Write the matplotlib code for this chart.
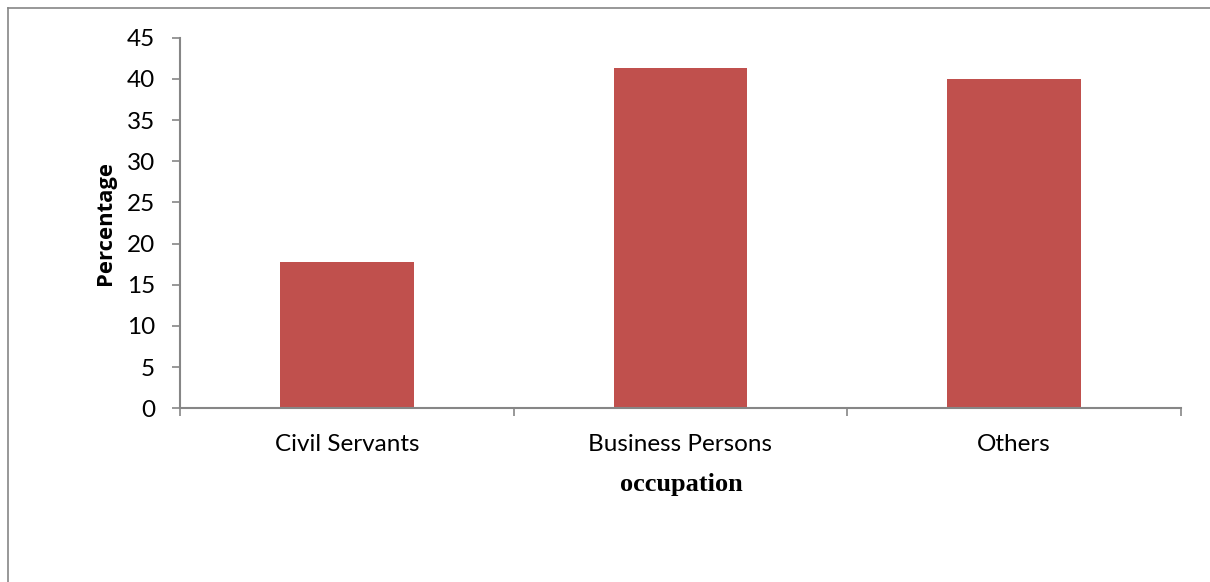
import matplotlib
matplotlib.use("Agg")
import matplotlib.pyplot as plt
from matplotlib.lines import Line2D

categories = ["Civil Servants", "Business Persons", "Others"]
values = [17.8, 41.3, 40.0]
yticks = [0, 5, 10, 15, 20, 25, 30, 35, 40, 45]

W, H = 1210, 582
fig = plt.figure(figsize=(W / 100, H / 100), dpi=100)
ax = fig.add_axes([180 / W, 1 - 408.3 / H, (1181 - 180) / W, (408.3 - 37.7) / H])

grey = "#868686"
bar_color = "#C0504D"

x = list(range(len(categories)))
ax.bar(x, values, width=0.4, color=bar_color, zorder=2)

ax.set_xlim(-0.5, len(categories) - 0.5)
ax.set_ylim(0, 45)
ax.set_yticks(yticks)
ax.set_yticklabels([str(v) for v in yticks], fontfamily="Lato", fontsize=17.5)

# category boundaries as major ticks, labels at centers via minor ticks
ax.set_xticks([i - 0.5 for i in range(len(categories) + 1)])
ax.set_xticklabels([])
ax.set_xticks(x, minor=True)
ax.set_xticklabels(categories, minor=True, fontfamily="Lato", fontsize=17.5)
ax.tick_params(axis="x", which="major", direction="out", length=6, width=1.2, color=grey)
ax.tick_params(axis="x", which="minor", length=0, pad=18.5)
ax.tick_params(axis="y", which="major", direction="out", length=6, width=1.2, color=grey, pad=12)

for s in ["top", "right"]:
    ax.spines[s].set_visible(False)
for s in ["left", "bottom"]:
    ax.spines[s].set_color(grey)
    ax.spines[s].set_linewidth(1.5)

fig.text(106 / W, 1 - 223 / H, "Percentage", rotation=90, ha="center", va="center",
         fontfamily="Open Sans", fontweight="bold", fontsize=15.8)
fig.text(681 / W, 1 - 484 / H, "occupation", ha="center", va="center",
         fontfamily="Liberation Serif", fontweight="bold", fontsize=19)

# outer chart border (top and left visible)
fig.add_artist(Line2D([7.5 / W, 1.0], [1 - 7.5 / H, 1 - 7.5 / H], transform=fig.transFigure,
                      color=grey, linewidth=1.2))
fig.add_artist(Line2D([7.5 / W, 7.5 / W], [0, 1 - 7.5 / H], transform=fig.transFigure,
                      color=grey, linewidth=1.2))

fig.savefig("out.png", dpi=100)
